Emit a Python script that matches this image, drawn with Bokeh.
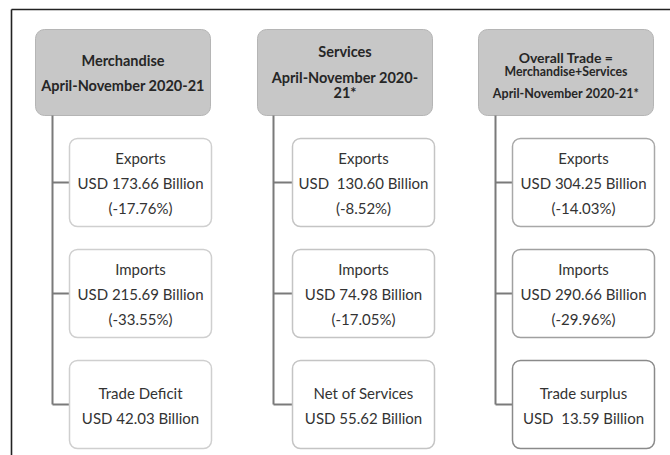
from bokeh.plotting import figure
from bokeh.models import Range1d
from bokeh.core.properties import value
from bokeh.embed import file_html
from bokeh.resources import INLINE

# ---------------- data ----------------
item_labels = [
    ["Exports", "Imports", "Trade Deficit"],
    ["Exports", "Imports", "Net of Services"],
    ["Exports", "Imports", "Trade surplus"],
]
merch_values = [173.66, 215.69, 42.03]
merch_changes = [-17.76, -33.55, None]
services_values = [130.60, 74.98, 55.62]
services_changes = [-8.52, -17.05, None]
overall_values = [304.25, 290.66, 13.59]
overall_changes = [-14.03, -29.96, None]
usd_gaps = [[" ", " ", " "], ["\u00a0 ", " ", " "], [" ", " ", "\u00a0 "]]

header_lines = [
    ["Merchandise", "April-November 2020-21"],
    ["Services", "April-November 2020-", "21*"],
    ["Overall Trade =", "Merchandise+Services", "April-November 2020-21*"],
]

values = [merch_values, services_values, overall_values]
changes = [merch_changes, services_changes, overall_changes]

# ---------------- layout ----------------
W, H = 670, 455
hdr_left = [35, 257, 478]
hdr_w = 175
hdr_top, hdr_bot = 29, 115
hdr_line_y = [[60, 85], [51, 77, 92], [57, 71, 93]]
hdr_line_size = [[14.5, 14.5], [14.5, 14.5, 14.5], [14, 12.3, 12.5]]
box_left = [69, 292, 512]
box_w = 142
box_tops = [138, 249, 360]
box_h = 88
trunk_x = [52, 273, 495]
box_border = [["#cfcfcf", "#cfcfcf", "#cfcfcf"],
              ["#c4c4c4", "#c4c4c4", "#c4c4c4"],
              ["#a8a8a8", "#a0a0a0", "#8a8a8a"]]

p = figure(width=W, height=H, x_range=Range1d(0, W), y_range=Range1d(H, 0),
           output_backend="svg", toolbar_location=None, min_border=0,
           x_axis_location=None, y_axis_location=None)
p.grid.visible = False
p.outline_line_color = None
p.background_fill_color = "white"
p.border_fill_color = "white"

# outer frame (top and left)
p.line(x=[11, W], y=[9, 9], line_color="#222222", line_width=1.6)
p.line(x=[11, 11], y=[9, H], line_color="#222222", line_width=1.6)

font = value("Lato")
for c in range(3):
    # header box
    p.quad(left=hdr_left[c], right=hdr_left[c] + hdr_w, top=hdr_top, bottom=hdr_bot,
           fill_color="#c7c7c7", line_color="#b5b5b5", line_width=1, border_radius=9)
    for t, y, s in zip(header_lines[c], hdr_line_y[c], hdr_line_size[c]):
        p.text(x=[hdr_left[c] + hdr_w / 2], y=[y], text=[t], text_align="center",
               text_baseline="middle", text_font=font, text_font_style="bold",
               text_font_size=f"{s}px", text_color="#262626")
    # connectors
    mids = [t + box_h / 2 for t in box_tops]
    p.line(x=[trunk_x[c], trunk_x[c]], y=[hdr_bot, mids[-1]], line_color="#7a7a7a", line_width=2)
    for m in mids:
        p.line(x=[trunk_x[c], box_left[c]], y=[m, m], line_color="#7a7a7a", line_width=2)
    # item boxes
    for i in range(3):
        top = box_tops[i]
        p.quad(left=box_left[c], right=box_left[c] + box_w, top=top, bottom=top + box_h,
               fill_color="white", line_color=box_border[c][i], line_width=1.5, border_radius=8)
        lines = [item_labels[c][i], f"USD{usd_gaps[c][i]}{values[c][i]:.2f} Billion"]
        if changes[c][i] is not None:
            lines.append(f"({changes[c][i]:.2f}%)")
        n = len(lines)
        mid = top + box_h / 2 + 0.5
        for k, t in enumerate(lines):
            y = mid + (k - (n - 1) / 2) * 25
            p.text(x=[box_left[c] + box_w / 2], y=[y], text=[t], text_align="center",
                   text_baseline="middle", text_font=font, text_font_size="15px",
                   text_color="#333333")

open("out.html", "w").write(file_html(p, INLINE))
